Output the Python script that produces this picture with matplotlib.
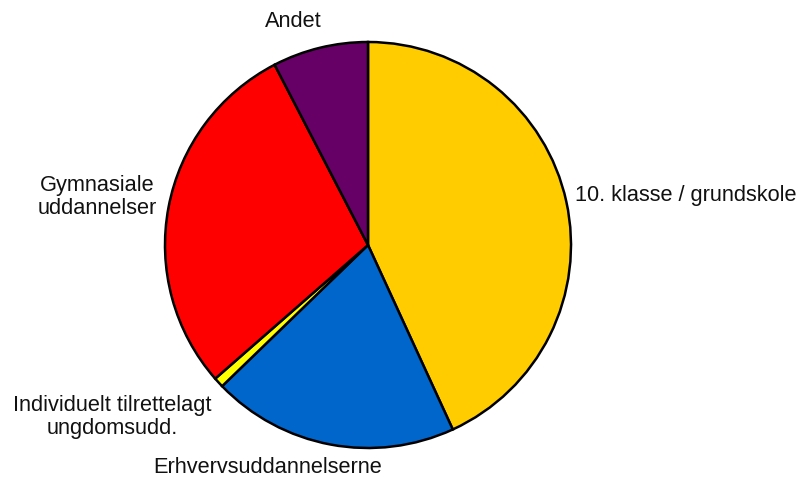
import matplotlib
matplotlib.use("Agg")
import matplotlib.pyplot as plt

categories = ["10. klasse / grundskole", "Erhvervsuddannelserne",
              "Individuelt tilrettelagt\nungdomsudd.", "Gymnasiale\nuddannelser", "Andet"]
values = [43.1, 19.6, 0.8, 28.8, 7.6]
colors = ["#FFCC00", "#0066CC", "#FFFF00", "#FF0000", "#660066"]

plt.rcParams['font.family'] = ['Liberation Sans', 'DejaVu Sans']

fig = plt.figure(figsize=(8.02, 4.79), dpi=100)
W, H = 802, 479
cx, cy, r = 368, 245, 203
ax = fig.add_axes([(cx - r) / W, (H - cy - r) / H, 2 * r / W, 2 * r / H])
wedges, texts = ax.pie(values, colors=colors, startangle=90, counterclock=False,
                       labels=categories, labeldistance=1.12,
                       wedgeprops=dict(edgecolor="black", linewidth=1.8),
                       textprops=dict(fontsize=15.7))
ax.set_xlim(-1, 1)
ax.set_ylim(-1, 1)
ax.set_aspect("equal")

# label placement (in radius units) and alignment
label_pos = [(1.020, 0.246, "left"), (-0.493, -1.094, "center"),
             (-1.259, -0.847, "center"), (-1.333, 0.236, "center"),
             (-0.367, 1.103, "center")]
for t, (x, y, ha) in zip(texts, label_pos):
    t.set_position((x, y))
    t.set_ha(ha)
    t.set_va("center")
    t.set_multialignment("center")
    t.set_linespacing(1.1)
    t.set_color("#111111")
fig.savefig("out.png", dpi=100)
